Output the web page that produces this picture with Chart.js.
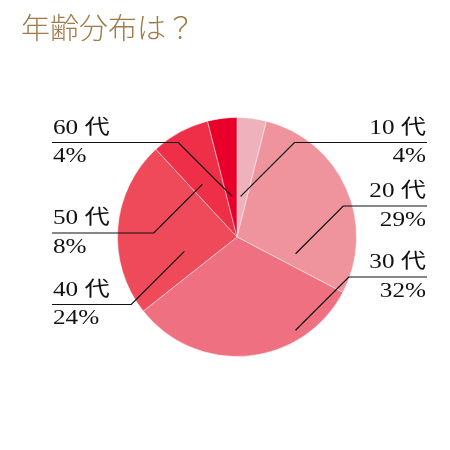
<!DOCTYPE html>
<html>
<head>
<meta charset="utf-8">
<script src="https://cdn.jsdelivr.net/npm/chart.js@4"></script>
<style>
  html, body { margin: 0; padding: 0; background: #fff; }
  #wrap { width: 450px; height: 450px; }
</style>
</head>
<body>
<div id="wrap"><canvas id="ageChart" width="450" height="450"></canvas></div>
<script>
const titleText = "年齢分布は？";
const ageGroups = ["10 代", "20 代", "30 代", "40 代", "50 代", "60 代"];
const ageShares = [4, 29, 32, 24, 8, 4];
const sliceColors = ["#efb1bb", "#ef939c", "#ef7081", "#ef4a5a", "#ef2f48", "#e8002b"];

// where each leader line starts (relative to pie centre, in radii) and where its label sits
const leaders = [
  { side: "right", ax: 0.03,  ay: -0.34, lineY: 142.5 },
  { side: "right", ax: 0.49,  ay: 0.14,  lineY: 206 },
  { side: "right", ax: 0.49,  ay: 0.78,  lineY: 277 },
  { side: "left",  ax: -0.44, ay: 0.12,  lineY: 304.5 },
  { side: "left",  ax: -0.29, ay: -0.44, lineY: 233 },
  { side: "left",  ax: -0.04, ay: -0.34, lineY: 142.5 }
];

const labelFont = '20px "Liberation Serif", "Noto Sans CJK JP", serif';

// the labels in the original use a wide mincho face, so stretch horizontally
function wideText(ctx, text, x, y) {
  ctx.save();
  ctx.translate(x, y);
  ctx.scale(1.26, 1);
  ctx.fillText(text, 0, 0);
  ctx.restore();
}

const labelPlugin = {
  id: "labelPlugin",
  afterDraw(chart) {
    const ctx = chart.ctx;
    const arc = chart.getDatasetMeta(0).data[0];
    const cx = arc.x, cy = arc.y, r = arc.outerRadius;

    ctx.save();
    ctx.fillStyle = "#a07a48";
    ctx.font = '300 29px "Noto Sans CJK JP", sans-serif';
    ctx.textBaseline = "middle";
    ctx.textAlign = "left";
    ctx.fillText(titleText, 21, 28);

    ctx.strokeStyle = "#111";
    ctx.lineWidth = 1.2;
    ctx.fillStyle = "#111";
    ctx.font = labelFont;
    ctx.textBaseline = "alphabetic";

    leaders.forEach((l, i) => {
      const x0 = cx + l.ax * r;
      const y0 = cy + l.ay * r;
      const rise = Math.abs(y0 - l.lineY);
      const right = l.side === "right";
      const ex = right ? x0 + rise : x0 - rise;
      const endX = right ? 427 : 52;

      ctx.beginPath();
      ctx.moveTo(x0, y0);
      ctx.lineTo(ex, l.lineY);
      ctx.lineTo(endX, l.lineY);
      ctx.stroke();

      ctx.textAlign = right ? "right" : "left";
      const tx = right ? endX - 1 : endX + 1;
      wideText(ctx, ageGroups[i], tx, l.lineY - 9);
      wideText(ctx, ageShares[i] + "%", tx, l.lineY + 19.5);
    });
    ctx.restore();
  }
};

new Chart(document.getElementById("ageChart").getContext("2d"), {
  type: "pie",
  data: {
    labels: ageGroups,
    datasets: [{
      data: ageShares,
      backgroundColor: sliceColors,
      borderColor: "rgba(255,255,255,0.45)",
      borderWidth: 1
    }]
  },
  options: {
    responsive: false,
    animation: false,
    layout: { padding: { top: 117, left: 117, right: 93, bottom: 93 } },
    plugins: {
      legend: { display: false },
      tooltip: { enabled: false }
    }
  },
  plugins: [labelPlugin]
});
</script>
</body>
</html>
